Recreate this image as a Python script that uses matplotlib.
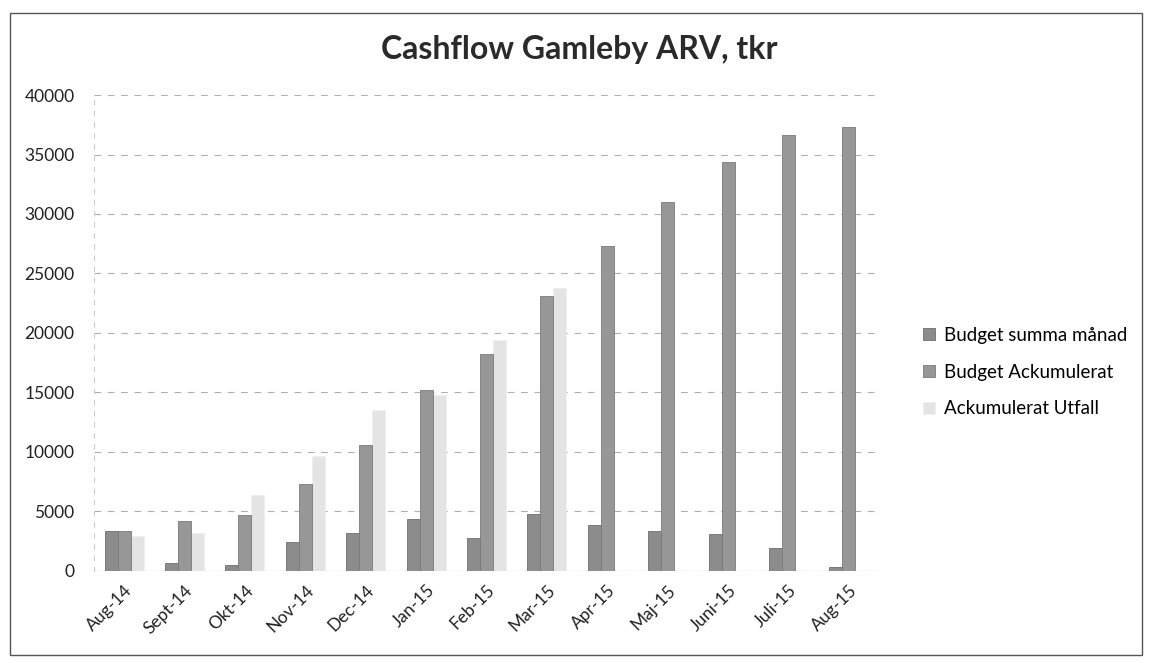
import matplotlib

matplotlib.use("Agg")
import matplotlib.pyplot as plt
import numpy as np
from matplotlib.patches import Rectangle

months = ["Aug-14", "Sept-14", "Okt-14", "Nov-14", "Dec-14", "Jan-15", "Feb-15",
          "Mar-15", "Apr-15", "Maj-15", "Juni-15", "Juli-15", "Aug-15"]
budget_manad = [3400, 700, 500, 2400, 3200, 4400, 2800, 4800, 3900, 3400, 3100, 1900, 300]
budget_ack = [3400, 4200, 4700, 7300, 10600, 15200, 18200, 23100, 27300, 31000, 34400, 36600, 37300]
utfall_ack = [2900, 3200, 6400, 9700, 13500, 14800, 19400, 23800,
              np.nan, np.nan, np.nan, np.nan, np.nan]
yticks = [0, 5000, 10000, 15000, 20000, 25000, 30000, 35000, 40000]

plt.rcParams["font.family"] = ["Lato", "DejaVu Sans"]

fig = plt.figure(figsize=(11.49, 6.63), dpi=100)
ax = fig.add_axes([0.0818, 0.1388, 0.6832, 0.7179])

x = np.arange(len(months))
w = 0.215
ax.bar(x - w, budget_manad, w, color="#8c8c8c", edgecolor="#6e6e6e", linewidth=0.6,
       label="Budget summa månad", zorder=3)
ax.bar(x, budget_ack, w, color="#979797", edgecolor="#7a7a7a", linewidth=0.6,
       label="Budget Ackumulerat", zorder=3)
ax.bar(x + w, utfall_ack, w, color="#e4e4e4", edgecolor="#eeeeee", linewidth=0.4,
       label="Ackumulerat Utfall", zorder=2)

ax.set_xlim(-0.5, len(months) - 0.5)
ax.set_ylim(0, 40000)
ax.set_yticks(yticks)
ax.set_yticklabels([str(v) for v in yticks], fontsize=12.5, color="#222222")
ax.set_xticks(x)
ax.set_xticklabels(months, rotation=45, ha="right", rotation_mode="anchor",
                   fontsize=12.5, color="#222222")
ax.tick_params(axis="y", length=0, pad=14)
ax.tick_params(axis="x", length=0, pad=8)
ax.grid(axis="y", color="#b0b0b0", linestyle=(0, (6, 6)), linewidth=0.8, zorder=0)
for s in ["top", "right", "bottom"]:
    ax.spines[s].set_visible(False)
ax.spines["left"].set_color("#cccccc")
ax.spines["left"].set_linestyle((0, (4, 6)))
ax.axhline(0, color="#c4c4c4", linewidth=0.8, zorder=1)

fig.text(0.504, 0.925, "Cashflow Gamleby ARV, tkr", ha="center", va="center",
         fontsize=23, fontweight="bold", color="#2a2a2a")

ax.legend(loc="center left", bbox_to_anchor=(1.035, 0.418), frameon=False,
          fontsize=13.5, handlelength=0.6, handleheight=0.6, labelspacing=1.05,
          handletextpad=0.5)

fig.patches.append(Rectangle((0.009, 0.012), 0.985, 0.968, transform=fig.transFigure,
                             fill=False, edgecolor="#555555", linewidth=1.0))

fig.savefig("out.png", dpi=100)
